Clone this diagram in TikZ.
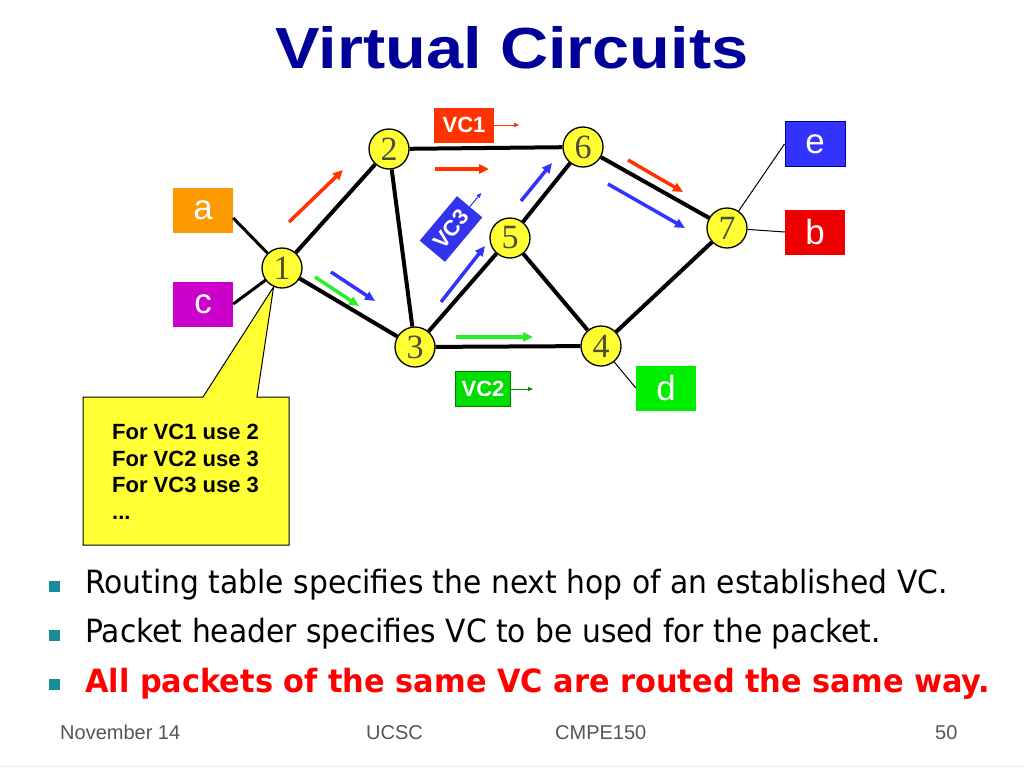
\documentclass[tikz,border=0pt]{standalone}
\usepackage{fontspec}
\setmainfont{Liberation Sans}
\newfontfamily\titlefont[FakeStretch=1.15]{Liberation Sans}
\newfontfamily\bulletfont[FakeStretch=0.93]{DejaVu Sans}
\newfontfamily\bulletboldfont[FakeStretch=0.95]{DejaVu Sans}
\newfontfamily\routerfont{Liberation Serif}
\usetikzlibrary{arrows.meta}
\definecolor{titleblue}{RGB}{0,0,153}
\definecolor{vcred}{RGB}{255,51,0}
\definecolor{vcblue}{RGB}{51,51,255}
\definecolor{vcgreen}{RGB}{40,240,40}
\definecolor{tagblue}{RGB}{51,51,238}
\definecolor{taggreen}{RGB}{0,221,0}
\definecolor{hostorange}{RGB}{255,153,0}
\definecolor{hostmagenta}{RGB}{204,0,204}
\definecolor{hostblue}{RGB}{51,51,255}
\definecolor{hostred}{RGB}{238,0,0}
\definecolor{hostgreen}{RGB}{0,238,0}
\definecolor{routeryellow}{RGB}{255,255,51}
\definecolor{routertext}{RGB}{77,77,51}
\definecolor{bulletteal}{RGB}{26,140,153}
\definecolor{footgray}{RGB}{85,85,85}

\begin{document}
\begin{tikzpicture}[
    x=1pt,
    y=-1pt,
    router/.style={
        circle,draw,line width=1.3pt,fill=routeryellow,
        minimum size=40pt,inner sep=0pt,text=routertext,
        font=\routerfont\fontsize{34}{34}\selectfont
    },
    host/.style={
        rectangle,minimum width=60pt,minimum height=45pt,inner sep=0pt,
        text=white,font=\fontsize{35}{35}\selectfont
    },
    vctag/.style={
        rectangle,minimum width=58pt,minimum height=35pt,inner sep=0pt,
        text=white,font=\fontsize{22}{22}\selectfont\bfseries
    },
    link/.style={line width=4pt},
    hostlink/.style={line width=3pt},
    leaflink/.style={line width=1pt},
    vcarrow/.style={line width=3.5pt,-{Triangle[length=10pt,width=9pt]}},
    tagarrow/.style={line width=1pt,-{Triangle[length=5pt,width=4pt]}},
    bulletline/.style={anchor=base west,inner sep=0pt,font=\bulletfont\fontsize{32}{32}\selectfont},
    footer/.style={anchor=base west,inner sep=0pt,text=footgray,font=\fontsize{20}{20}\selectfont}
]
    \useasboundingbox[fill=white] (0,0) rectangle (1024,768);
    \node[font=\titlefont\bfseries\fontsize{58}{60}\selectfont,text=titleblue,anchor=base] (title) at (512,68) {Virtual Circuits};

    \node[router] (r1) at (282,268) {1};
    \node[router] (r2) at (389,149) {2};
    \node[router] (r3) at (415,347) {3};
    \node[router] (r4) at (601,346) {4};
    \node[router] (r5) at (510,238) {5};
    \node[router] (r6) at (583,147) {6};
    \node[router] (r7) at (727,228) {7};

    \node[host,fill=hostorange] (a) at (203,210) {a};
    \node[host,fill=hostmagenta] (c) at (203,304) {c};
    \node[host,fill=hostblue,draw=titleblue,line width=1pt] (e) at (815,144) {e};
    \node[host,fill=hostred] (b) at (815,232) {b};
    \node[host,fill=hostgreen] (d) at (666,388) {d};

    \draw[link] (r1) -- (r2);
    \draw[link] (r1) -- (r3);
    \draw[link] (r2) -- (r3);
    \draw[link] (r2) -- (r6);
    \draw[link] (r3) -- (r5);
    \draw[link] (r3) -- (r4);
    \draw[link] (r5) -- (r6);
    \draw[link] (r5) -- (r4);
    \draw[link] (r6) -- (r7);
    \draw[link] (r4) -- (r7);
    \draw[hostlink] ([yshift=-8pt]a.east) -- (r1);
    \draw[hostlink] (c.east) -- (r1);
    \draw[leaflink] (r7) -- (e.west);
    \draw[leaflink] (r7) -- (b.west);
    \draw[leaflink] (r4) -- (d.west);

    \foreach \xa/\ya/\xb/\yb in {289/222/343/170, 435/169/489/169, 628/160/683/192}
        \draw[vcarrow,vcred] (\xa,\ya) -- (\xb,\yb);
    \foreach \xa/\ya/\xb/\yb in {608/184/685/228, 331/272/375/301, 441/302/485/246, 521/201/552/163}
        \draw[vcarrow,vcblue] (\xa,\ya) -- (\xb,\yb);
    \foreach \xa/\ya/\xb/\yb in {315/277/359/306, 456/337/533/337}
        \draw[vcarrow,vcgreen] (\xa,\ya) -- (\xb,\yb);

    \node[vctag,fill=vcred,minimum width=60pt] (vc1) at (464,125) {VC1};
    \node[vctag,fill=taggreen,draw=green!50!black,line width=1pt,minimum width=55pt] (vc2) at (483,389) {VC2};
    \node[vctag,fill=tagblue,rotate=50,minimum height=33pt] (vc3) at (451,229) {VC3};
    \draw[tagarrow,vcred] (vc1.east) -- ++(25,0);
    \draw[tagarrow,green!55!black] (vc2.east) -- ++(22,0);
    \draw[tagarrow,vcblue] (vc3.east) -- ++(-50:18);

    \draw[fill=routeryellow,line width=1pt]
        (83,397) -- (203,397) -- (r1.246) -- (257,397) -- (289,397)
        -- (289,545) -- (83,545) -- cycle;
    \node[anchor=north west,inner sep=0pt,align=left,font=\fontsize{22}{26.5}\selectfont\bfseries] (table) at (112,424)
        {For VC1 use 2\\For VC2 use 3\\For VC3 use 3\\...};

    \foreach \yb in {586,635,684}
        \fill[bulletteal] (48.5,\yb-5.5) rectangle ++(11,11);
    \node[bulletline] (p1) at (85,593) {Routing table specifies the next hop of an established VC.};
    \node[bulletline] (p2) at (85,642) {Packet header specifies VC to be used for the packet.};
    \node[bulletline,text=red,font=\bulletboldfont\bfseries\fontsize{32}{32}\selectfont] (p3) at (85,692) {All packets of the same VC are routed the same way.};

    \node[footer] (date) at (60,739) {November 14};
    \node[footer] (school) at (366,739) {UCSC};
    \node[footer] (course) at (555,739) {CMPE150};
    \node[footer] (page) at (935,739) {50};
    \draw[black!8,line width=1pt] (0,766) -- (1024,766);
\end{tikzpicture}
\end{document}
